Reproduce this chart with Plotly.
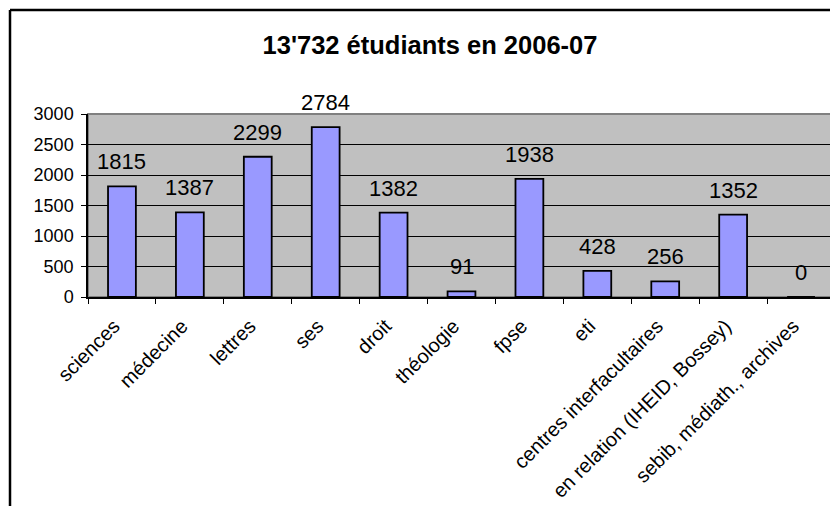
import plotly.graph_objects as go

categories = ["sciences", "médecine", "lettres", "ses", "droit", "théologie", "fpse",
              "eti", "centres interfacultaires", "en relation (IHEID, Bossey)",
              "sebib, médiath., archives"]
values = [1815, 1387, 2299, 2784, 1382, 91, 1938, 428, 256, 1352, 0]
title_text = "13'732 étudiants en 2006-07"
y_ticks = [0, 500, 1000, 1500, 2000, 2500, 3000]

# page body has an 8px margin: the figure is drawn 8px right/down
W, H = 830, 498
L, R, T = 80, 3, 106
ph = 183
B = H - T - ph
pw = W - L - R
FONT = "Arial, Liberation Sans, sans-serif"
PAD = "\u00a0\u00a0"

fig = go.Figure()
fig.add_trace(go.Bar(
    x=categories, y=values,
    marker=dict(color="#9999FF", line=dict(color="black", width=1.8)),
    width=0.41,
    hoverinfo="x+y",
))

annotations = []
for c, v in zip(categories, values):
    annotations.append(dict(
        x=c, y=v, xref="x", yref="y", text=str(v), showarrow=False,
        yanchor="bottom", yshift=10,
        font=dict(family=FONT, size=22, color="black"),
    ))

bx = (2 - L) / pw
by = 1 + (T - 2) / ph
shapes = [
    dict(type="rect", xref="paper", yref="paper", x0=0, y0=0, x1=1, y1=1,
         line=dict(color="#808080", width=2), layer="below", fillcolor="#C0C0C0"),
    dict(type="line", xref="paper", yref="paper",
         x0=bx, x1=bx, y0=by, y1=-(B + 10) / ph,
         line=dict(color="black", width=2.5)),
    dict(type="line", xref="paper", yref="paper",
         x0=bx, x1=(W + 10 - L) / pw, y0=by, y1=by,
         line=dict(color="black", width=2.5)),
]

fig.update_layout(
    width=W, height=H,
    margin=dict(l=L, r=R, t=T, b=B, autoexpand=False),
    paper_bgcolor="white",
    plot_bgcolor="#C0C0C0",
    showlegend=False,
    title=dict(text="<b>" + title_text + "</b>", x=422 / W, xanchor="center",
               y=1 - 37 / H, yanchor="middle", yref="container",
               font=dict(family=FONT, size=25.5, color="black")),
    font=dict(family=FONT, size=18, color="black"),
    annotations=annotations,
    shapes=shapes,
    bargap=0.59,
)

fig.update_xaxes(
    type="category",
    tickangle=-45,
    tickmode="array",
    tickvals=categories,
    ticktext=[c + PAD for c in categories],
    ticks="outside", ticklen=5, tickcolor="black", tickwidth=1,
    tickson="boundaries",
    showline=True, linecolor="black", linewidth=1.5,
    showgrid=False,
    automargin=False,
    ticklabelstandoff=0,
    tickfont=dict(family=FONT, size=20, color="black"),
)
fig.update_yaxes(
    range=[0, 3000],
    tickvals=y_ticks,
    ticks="outside", ticklen=5, tickcolor="black", tickwidth=1,
    showline=True, linecolor="black", linewidth=1.5,
    showgrid=True, gridcolor="black", gridwidth=1,
    zeroline=False,
    automargin=False,
    ticklabelstandoff=4,
    tickfont=dict(family=FONT, size=18, color="black"),
)

fig.write_html("out.html")
